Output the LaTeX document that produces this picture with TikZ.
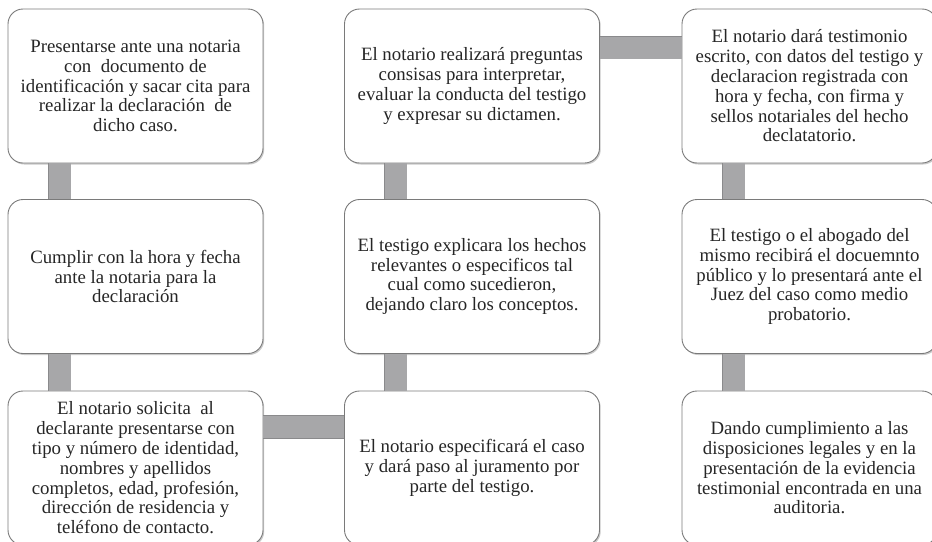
\documentclass[tikz,border=0pt]{standalone}
\usepackage{fontspec}
\setmainfont{Liberation Serif}
\usetikzlibrary{shadows}
\definecolor{boxline}{HTML}{7A7A7A}
\definecolor{barfill}{HTML}{A7A7A9}
\definecolor{barline}{HTML}{8A8A8C}
\definecolor{txt}{HTML}{262626}
\tikzset{
  stepbox/.style={draw=boxline, line width=0.9pt, fill=white, rounded corners=15pt,
    minimum width=255pt, minimum height=154pt, inner sep=0pt, align=center,
    text=txt, font=\fontsize{18.8}{19.8}\selectfont,
    drop shadow={shadow xshift=1.2pt, shadow yshift=-1.5pt, opacity=0.35, fill=black!60}},
  bar/.style={draw=barline, line width=0.8pt, double=barfill, double distance=22pt}
}
\begin{document}
\begin{tikzpicture}
\useasboundingbox (0pt,0pt) rectangle (932pt,-541pt);
\clip (0pt,0pt) rectangle (932pt,-541pt);
% boxes
\node[stepbox] (a1) at (135.5pt,-86pt) {Presentarse ante una notaria\\con\ \ documento de\\identificación y sacar cita para\\realizar la declaración\ \ de\\dicho caso.};
\node[stepbox] (a2) at (135.5pt,-276.5pt) {Cumplir con la hora y fecha\\ante la notaria para la\\declaración};
\node[stepbox] (a3) at (135.5pt,-468pt) {El notario solicita\ \ al\\declarante presentarse con\\tipo y número de identidad,\\nombres y apellidos\\completos, edad, profesión,\\dirección de residencia y\\teléfono de contacto.};
\node[stepbox] (b3) at (472pt,-468pt) {El notario especificará el caso\\y dará paso al juramento por\\parte del testigo.};
\node[stepbox] (b2) at (472pt,-276.5pt) {El testigo explicara los hechos\\relevantes o especificos tal\\cual como sucedieron,\\dejando claro los conceptos.};
\node[stepbox] (b1) at (472pt,-86pt) {El notario realizará preguntas\\consisas para interpretar,\\evaluar la conducta del testigo\\y expresar su dictamen.};
\node[stepbox] (c1) at (809.5pt,-86pt) {El notario dará testimonio\\escrito, con datos del testigo y\\declaracion registrada con\\hora y fecha, con firma y\\sellos notariales del hecho\\declatatorio.};
\node[stepbox] (c2) at (809.5pt,-276.5pt) {El testigo o el abogado del\\mismo recibirá el docuemnto\\público y lo presentará ante el\\Juez del caso como medio\\probatorio.};
\node[stepbox] (c3) at (809.5pt,-468pt) {Dando cumplimiento a las\\disposiciones legales y en la\\presentación de la evidencia\\testimonial encontrada en una\\auditoria.};
% connectors
\draw[bar] ([xshift=52pt]a1.south west) -- ([xshift=52pt]a2.north west);
\draw[bar] ([xshift=52pt]a2.south west) -- ([xshift=52pt]a3.north west);
\draw[bar] ([yshift=-36.5pt]a3.north east) -- ([yshift=-36.5pt]b3.north west);
\draw[bar] ([xshift=51.5pt]b3.north west) -- ([xshift=51.5pt]b2.south west);
\draw[bar] ([xshift=51.5pt]b2.north west) -- ([xshift=51.5pt]b1.south west);
\draw[bar] ([yshift=-39pt]b1.north east) -- ([yshift=-39pt]c1.north west);
\draw[bar] ([xshift=52pt]c1.south west) -- ([xshift=52pt]c2.north west);
\draw[bar] ([xshift=52pt]c2.south west) -- ([xshift=52pt]c3.north west);
\end{tikzpicture}
\end{document}
